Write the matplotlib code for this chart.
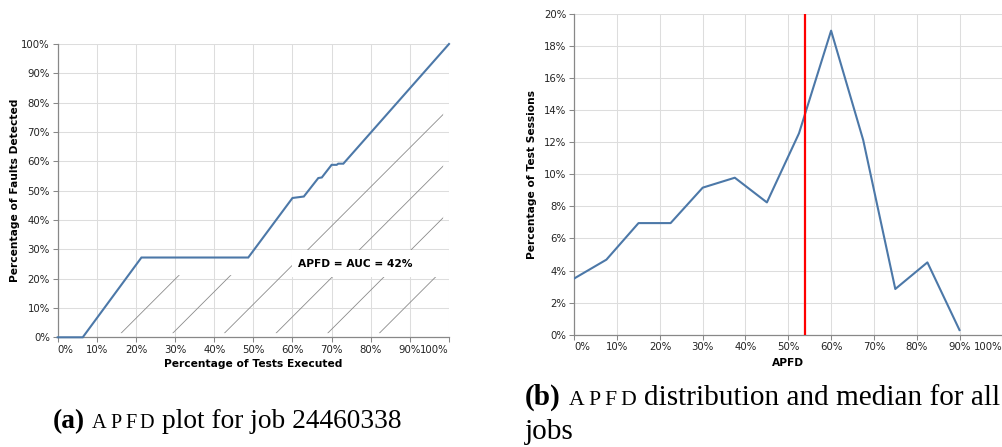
import numpy as np
import matplotlib
matplotlib.use("Agg")
import matplotlib.pyplot as plt
from matplotlib.patches import Polygon, Rectangle
from matplotlib.ticker import FuncFormatter

# ---------------- data ----------------
# (a) APFD curve for one job
tests_executed = [0, 6.4, 21.4, 48.7, 60.0, 62.9, 66.6, 67.5, 70.0, 71.3, 71.7, 73.0, 100]
faults_detected = [0, 0, 27.2, 27.2, 47.5, 48.0, 54.3, 54.5, 58.8, 58.8, 59.2, 59.2, 100]
apfd_label = "APFD = AUC = 42%"

# (b) APFD distribution over all jobs
apfd_bins = [0, 7.5, 15, 22.5, 30, 37.5, 45, 52.5, 60, 67.5, 75, 82.5, 90]
session_share = [3.51, 4.68, 6.96, 6.96, 9.17, 9.79, 8.25, 12.56, 18.96, 12.14, 2.85, 4.51, 0.29]
median_apfd = 53.9

ticks_a_x = list(range(0, 101, 10))
ticks_a_y = list(range(0, 101, 10))
ticks_b_x = list(range(0, 101, 10))
ticks_b_y = list(range(0, 21, 2))

caption_a = [("bold", "(a)"), ("space", ""), ("sc", "APFD"), ("space", ""), ("normal", "plot for job 24460338")]
caption_b1 = [("bold", "(b)"), ("space", ""), ("sc", "APFD"), ("space", ""), ("normal", "distribution and median for all")]
caption_b2 = [("normal", "jobs")]

# ---------------- style ----------------
W, H = 1003, 447
BLUE = "#4c78a8"
GRID = "#dddddd"
DOMAIN = "#888888"
LABEL_PT = 7.3
TITLE_PT = 7.7

fig = plt.figure(figsize=(W / 100, H / 100), dpi=100)


def px_axes(l, t, r, b):
    return fig.add_axes([l / W, 1 - b / H, (r - l) / W, (b - t) / H])


def pct(v, p):
    return f"{v:.0f}%"


def style(ax, xt, yt, ylim):
    ax.set_xlim(0, 100)
    ax.set_ylim(*ylim)
    ax.set_xticks(xt)
    ax.set_yticks(yt)
    ax.xaxis.set_major_formatter(FuncFormatter(pct))
    ax.yaxis.set_major_formatter(FuncFormatter(pct))
    ax.set_axisbelow(True)
    ax.grid(True, color=GRID, lw=0.75)
    for s in ("top", "right"):
        ax.spines[s].set_visible(False)
    for s in ("left", "bottom"):
        ax.spines[s].set_color(DOMAIN)
        ax.spines[s].set_linewidth(0.9)
    ax.tick_params(length=3.6, width=0.75, color=DOMAIN, labelsize=LABEL_PT,
                   labelcolor="#222222", pad=2)
    labels = ax.get_xticklabels()
    labels[0].set_ha("left")
    labels[-1].set_ha("right")


# ---------------- (a) ----------------
axA = px_axes(57.7, 44, 449, 337.3)
style(axA, ticks_a_x, ticks_a_y, (0, 100))

posA = axA.get_position()
slope = (posA.width * W) / (posA.height * H)  # 45 degree hatch in pixel space
xs = np.linspace(0, 98.5, 500)
tops = np.maximum(np.interp(xs, tests_executed, faults_detected) - 6, 1.4)
verts = list(zip(xs, tops)) + [(98.5, 1.4), (0, 1.4)]
clip = Polygon(verts, closed=True, facecolor="none", edgecolor="none",
               transform=axA.transData)
axA.add_patch(clip)
for x0 in 16.2 + 13.2 * np.arange(-2, 6):
    ln, = axA.plot([x0, x0 + (100 - 1.4) / slope], [1.4, 100],
                   color="#8a8a8a", lw=0.6, zorder=1.5)
    ln.set_clip_path(clip)

axA.add_patch(Rectangle((59.8, 20.4), 39.9, 9.2, facecolor="white",
                        edgecolor="none", zorder=2))
axA.plot(tests_executed, faults_detected, color=BLUE, lw=1.5, zorder=3,
         clip_on=False, solid_joinstyle="miter")
axA.text(61.5, 25.0, apfd_label, fontsize=TITLE_PT, weight="bold",
         ha="left", va="center", zorder=4)

axA.set_xlabel("Percentage of Tests Executed", fontsize=TITLE_PT, weight="bold")
axA.set_ylabel("Percentage of Faults Detected", fontsize=TITLE_PT, weight="bold")
axA.xaxis.set_label_coords(0.5, -(364.3 - 337.3) / (337.3 - 44))
axA.xaxis.label.set_va("center")
axA.yaxis.set_label_coords(-(57.7 - 15.5) / (449 - 57.7), 0.5)
axA.yaxis.label.set_va("center")

# ---------------- (b) ----------------
axB = px_axes(574.3, 14, 1002.3, 334.7)
style(axB, ticks_b_x, ticks_b_y, (0, 20))
axB.plot(apfd_bins, session_share, color=BLUE, lw=1.5, zorder=3)
axB.axvline(median_apfd, color="#ff0000", lw=1.6, zorder=4)
axB.set_xlabel("APFD", fontsize=TITLE_PT, weight="bold")
axB.set_ylabel("Percentage of Test Sessions", fontsize=TITLE_PT, weight="bold")
axB.xaxis.set_label_coords(0.5, -(363.3 - 334.7) / (334.7 - 14))
axB.xaxis.label.set_va("center")
axB.yaxis.set_label_coords(-(574.3 - 532.5) / (1002.3 - 574.3), 0.5)
axB.yaxis.label.set_va("center")

# ---------------- captions ----------------
renderer = fig.canvas.get_renderer()
SERIF = "Liberation Serif"


def place(x_px, base_px, pieces, size):
    x = x_px
    made = []
    size_px = size * 100 / 72
    for kind, s in pieces:
        if kind == "space":
            x += 0.27 * size_px
            continue
        if kind == "sc":
            for i, ch in enumerate(s):
                t = fig.text(x / W, 1 - base_px / H, ch, fontsize=size * 0.74,
                             family=SERIF, va="baseline", ha="left")
                made.append(t)
                x += t.get_window_extent(renderer).width
                if i < len(s) - 1:
                    x += 0.13 * size_px
            continue
        t = fig.text(x / W, 1 - base_px / H, s, fontsize=size, family=SERIF,
                     weight="bold" if kind == "bold" else "normal",
                     va="baseline", ha="left")
        made.append(t)
        x += t.get_window_extent(renderer).width
    return x, made


def fit(x_px, base_px, pieces, target_w, size0=17.0):
    end, made = place(x_px, base_px, pieces, size0)
    for t in made:
        t.remove()
    size = size0 * target_w / (end - x_px)
    place(x_px, base_px, pieces, size)
    return size


fit(52.7, 428.3, caption_a, 401.7 - 52.7)
sb = fit(525.0, 405.0, caption_b1, 1000.0 - 525.0)
place(525.0, 439.0, caption_b2, sb)

fig.savefig("out.png", dpi=100)
